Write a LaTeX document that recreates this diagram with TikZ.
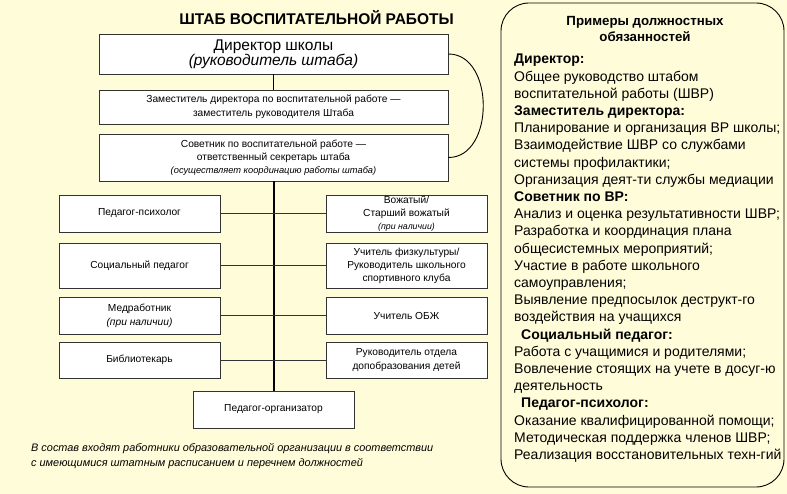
\documentclass[tikz,border=0pt]{standalone}
\usepackage{fontspec}
\setmainfont{Liberation Sans}
\usepackage{tikz}
\usepackage{xcolor}
\definecolor{paperc}{HTML}{FFFCDA}
\definecolor{framec}{HTML}{333333}
\tikzset{
  post/.style={draw=framec, fill=white, line width=0.9pt, align=center, inner sep=0pt, font=\fontsize{10.2}{13.5}\selectfont},
  trunk/.style={draw=black, line width=2pt},
  branch/.style={draw=framec, line width=1pt},
  link/.style={draw=black, line width=0.9pt},
  panel/.style={draw=black, fill=paperc, line width=0.9pt, rounded corners=28pt},
  duty/.style={align=left, inner sep=0pt, font=\fontsize{14}{17.2}\selectfont},
}

\begin{document}
\begin{tikzpicture}[x=1pt,y=-1pt]
\fill[paperc] (0,0) rectangle (787,494);
\node[font=\fontsize{15.5}{18}\selectfont\bfseries] (title) at (316.5,18) {ШТАБ ВОСПИТАТЕЛЬНОЙ РАБОТЫ};
\node[post, minimum width=349pt, minimum height=40pt, font=\fontsize{15.5}{17}\selectfont] (dir) at (273.5,54) {\raisebox{-2pt}{Директор школы}\\\textit{(руководитель штаба)}};
\node[post, minimum width=349pt, minimum height=34pt, font=\fontsize{10.2}{14}\selectfont] (dep) at (273.5,107) {Заместитель директора по воспитательной работе —\\заместитель руководителя Штаба};
\node[post, minimum width=349pt, minimum height=47pt, font=\fontsize{10.2}{12.8}\selectfont] (sov) at (273.5,157.5) {Советник по воспитательной работе —\\ответственный секретарь штаба\\{\fontsize{9.3}{13}\selectfont\itshape (осуществляет координацию работы штаба)}};
% left column
\node[post, minimum width=161pt, minimum height=37pt] (psy) at (139.5,213.5) {Педагог-психолог};
\node[post, minimum width=161pt, minimum height=45pt] (soc) at (139.5,265.5) {Социальный педагог};
\node[post, minimum width=161pt, minimum height=37pt, font=\fontsize{10.2}{14}\selectfont] (med) at (139.5,315.5) {Медработник\\\textit{(при наличии)}};
\node[post, minimum width=161pt, minimum height=36pt] (lib) at (139.5,360) {Библиотекарь};
% right column
\node[post, minimum width=161pt, minimum height=37pt, font=\fontsize{10.2}{13}\selectfont] (lead) at (406.5,213.5) {Вожатый/\\Старший вожатый\\{\fontsize{8.8}{10}\selectfont\itshape (при наличии)}};
\node[post, minimum width=161pt, minimum height=45pt, font=\fontsize{10.2}{13}\selectfont] (pe) at (406.5,265.5) {Учитель физкультуры/\\Руководитель школьного\\спортивного клуба};
\node[post, minimum width=161pt, minimum height=37pt] (obzh) at (406.5,315.5) {Учитель ОБЖ};
\node[post, minimum width=161pt, minimum height=36pt, font=\fontsize{10.2}{14}\selectfont] (extra) at (406.5,360) {Руководитель отдела\\допобразования детей};
\node[post, minimum width=161pt, minimum height=37pt] (org) at (273.5,409.5) {Педагог-организатор};
% connectors
\draw[trunk, line width=1.4pt] (dir) -- (dep);
\draw[trunk] (sov) -- (org);
\draw[branch] (psy) -- (lead);
\draw[branch] (soc) -- (pe);
\draw[branch] (med) -- (obzh);
\draw[branch] (lib) -- (extra);
\draw[link] (dir.east) to[out=0,in=0,looseness=1.15] (sov.east);
\node[anchor=west, align=left, inner sep=0pt, font=\fontsize{10.9}{15}\selectfont\itshape] (note) at (31,456) {В состав входят работники образовательной организации в соответствии\\с имеющимися штатным расписанием и перечнем должностей};
% duties panel
\draw[panel] (501,3) rectangle (784,487);
\node[align=center, font=\fontsize{13.3}{16}\selectfont\bfseries] (dutyhead) at (645,28.5) {Примеры должностных\\обязанностей};
\node[duty, anchor=north west] (duties) at (514,54) {\textbf{Директор:}\\
Общее руководство штабом\\
воспитательной работы (ШВР)\\
\textbf{Заместитель директора:}\\
Планирование и организация ВР школы;\\
Взаимодействие ШВР со службами\\
системы профилактики;\\
Организация деят-ти службы медиации\\
\textbf{Советник по ВР:}\\
Анализ и оценка результативности ШВР;\\
Разработка и координация плана\\
общесистемных мероприятий;\\
Участие в работе школьного\\
самоуправления;\\
Выявление предпосылок деструкт-го\\
воздействия на учащихся\\
\hspace*{7pt}\textbf{Социальный педагог:}\\
Работа с учащимися и родителями;\\
Вовлечение стоящих на учете в досуг-ю\\
деятельность\\
\hspace*{7pt}\textbf{Педагог-психолог:}\\
Оказание квалифицированной помощи;\\
Методическая поддержка членов ШВР;\\
Реализация восстановительных техн-гий};
\end{tikzpicture}
\end{document}
